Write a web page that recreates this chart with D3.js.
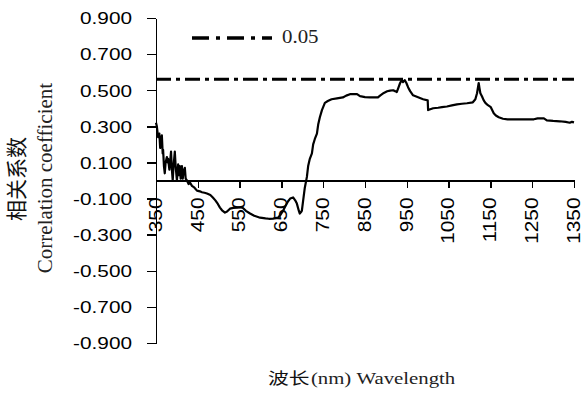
<!DOCTYPE html>
<html lang="zh">
<head>
<meta charset="UTF-8">
<title>Correlation coefficient vs wavelength</title>
<script src="https://d3js.org/d3.v7.min.js"></script>
<style>
  body { margin: 0; background: #fff; }
  .axis path, .axis line { stroke: #000; stroke-width: 1.5; shape-rendering: crispEdges; }
  .tick-label { font-family: "Liberation Sans", Arial, sans-serif; fill: #000; }
  .serif { font-family: "Liberation Serif", "Times New Roman", serif; fill: #222; }
  .cjk { font-family: "Noto Sans CJK SC", sans-serif; fill: #111; }
</style>
</head>
<body>
<svg width="582" height="404"></svg>
<script>
// wavelength (nm) and correlation coefficient
const waveNm = [350,352,355,358,360,362,364,366,367,369,371,373,376,378,379,382,384,386,388,390,
  392,395,397,400,402,403,405,407,409,412,414,416,419,421,424,428,431,436,442,448,
  455,460,466,472,480,486,492,498,503,508,515,520,527,535,544,552,558,565,575,585,
  599,612,620,630,642,648,654,660,666,671,678,683,687,692,694,697,699,702,706,711,
  714,718,723,726,730,735,738,742,747,754,761,770,783,797,805,814,831,838,850,862,
  881,886,895,903,910,917,922,926,930,934,938,941,945,949,953,958,965,977,989,1000,
  1001,1013,1025,1034,1046,1058,1070,1082,1094,1108,1114,1118,1122,1124,1126,1130,1134,1138,1144,1151,
  1158,1163,1170,1180,1191,1220,1254,1263,1278,1285,1300,1316,1330,1340,1345,1350];
const corrR = [0.32,0.30,0.24,0.26,0.18,0.22,0.25,0.15,0.17,0.08,0.04,0.10,0.13,0.10,0.12,0.06,0.11,0.16,0.06,0.00,
  0.08,0.16,0.08,0.00,0.06,0.09,0.03,0.08,0.01,0.08,0.01,0.05,0.07,0.01,0.00,-0.02,-0.01,-0.03,-0.04,-0.056,
  -0.06,-0.065,-0.068,-0.072,-0.08,-0.094,-0.11,-0.13,-0.15,-0.165,-0.178,-0.172,-0.156,-0.152,-0.15,-0.148,-0.152,-0.168,-0.183,-0.195,
  -0.206,-0.21,-0.212,-0.211,-0.206,-0.19,-0.167,-0.14,-0.115,-0.1,-0.094,-0.11,-0.128,-0.17,-0.183,-0.175,-0.167,-0.111,-0.04,0.02,
  0.08,0.12,0.15,0.2,0.23,0.26,0.31,0.35,0.39,0.43,0.44,0.45,0.455,0.46,0.47,0.478,0.478,0.467,0.462,0.46,
  0.46,0.47,0.485,0.494,0.498,0.5,0.495,0.49,0.515,0.54,0.556,0.545,0.556,0.54,0.517,0.495,0.472,0.461,0.45,0.444,
  0.39,0.4,0.403,0.406,0.41,0.416,0.422,0.425,0.428,0.433,0.45,0.483,0.54,0.51,0.483,0.465,0.444,0.43,0.417,0.406,
  0.372,0.36,0.35,0.342,0.339,0.339,0.339,0.344,0.344,0.333,0.33,0.328,0.325,0.32,0.325,0.322];

const xTicks = [350,450,550,650,750,850,950,1050,1150,1250,1350];
const yTicks = [0.9,0.7,0.5,0.3,0.1,-0.1,-0.3,-0.5,-0.7,-0.9];
const threshold = 0.561;      // r at the 0.05 level
const legendLabel = "0.05";

const svg = d3.select("svg");

const x = d3.scaleLinear().domain([350, 1350]).range([156, 574]);
const y = d3.scaleLinear().domain([-0.9, 0.9]).range([343, 18]);

// y axis (plain hyphen for negatives, like the original)
const yFmt = d => d3.format(".3f")(d).replace("\u2212", "-");
const yAxis = svg.append("g")
  .attr("class", "axis")
  .attr("transform", "translate(156,0)")
  .call(d3.axisLeft(y).tickValues(yTicks).tickSize(9).tickSizeOuter(0).tickFormat(yFmt));
yAxis.selectAll("text")
  .attr("class", "tick-label")
  .attr("x", 0)
  .attr("dy", "0.35em")
  .style("font-size", "16.5px")
  .attr("transform", "translate(-24,0) scale(1.26,1)");

// x axis through zero
const xAxis = svg.append("g")
  .attr("class", "axis")
  .attr("transform", "translate(0," + y(0) + ")")
  .call(d3.axisBottom(x).tickValues(xTicks).tickSize(7).tickSizeOuter(0).tickFormat(d3.format("d")));
xAxis.selectAll("text")
  .attr("class", "tick-label")
  .attr("x", 0).attr("y", 0)
  .attr("dy", "0.3em")
  .style("font-size", "17.5px")
  .style("text-anchor", "end")
  .attr("transform", "translate(0,17) rotate(-90) scale(1.19,1)");

// threshold line
svg.append("line")
  .attr("x1", x(350)).attr("x2", x(1350))
  .attr("y1", y(threshold)).attr("y2", y(threshold))
  .attr("stroke", "#000").attr("stroke-width", 3)
  .attr("stroke-dasharray", "15,5,4,5");

// correlation curve
const pts = waveNm.map((w, i) => [w, corrR[i]]);
svg.append("path")
  .datum(pts)
  .attr("fill", "none")
  .attr("stroke", "#000")
  .attr("stroke-width", 2.2)
  .attr("stroke-linejoin", "round")
  .attr("d", d3.line().x(d => x(d[0])).y(d => y(d[1])));

// legend
svg.append("line")
  .attr("x1", 192).attr("x2", 272).attr("y1", 38).attr("y2", 38)
  .attr("stroke", "#000").attr("stroke-width", 3.5)
  .attr("stroke-dasharray", "17,7,4,7");
svg.append("text")
  .attr("class", "serif")
  .attr("transform", "translate(282,43) scale(1.1,1)")
  .style("font-size", "19px")
  .text(legendLabel);

// y title
svg.append("text")
  .attr("class", "cjk")
  .attr("transform", "translate(16,179) rotate(-90)")
  .attr("text-anchor", "middle")
  .attr("dy", "0.38em")
  .style("font-size", "21px")
  .text("相关系数");
svg.append("text")
  .attr("class", "serif")
  .attr("transform", "translate(45,178) rotate(-90)")
  .attr("text-anchor", "middle")
  .attr("dy", "0.33em")
  .style("font-size", "21px")
  .text("Correlation coefficient");

// x title
const xt = svg.append("text")
  .attr("transform", "translate(268,384) scale(1.3,1)");
xt.append("tspan").attr("class", "cjk").style("font-size", "16px").text("波长");
xt.append("tspan").attr("class", "serif").style("font-size", "16px").attr("dx", 1).text("(nm)");
xt.append("tspan").attr("class", "serif").style("font-size", "16px").text(" Wavelength");
</script>
</body>
</html>
